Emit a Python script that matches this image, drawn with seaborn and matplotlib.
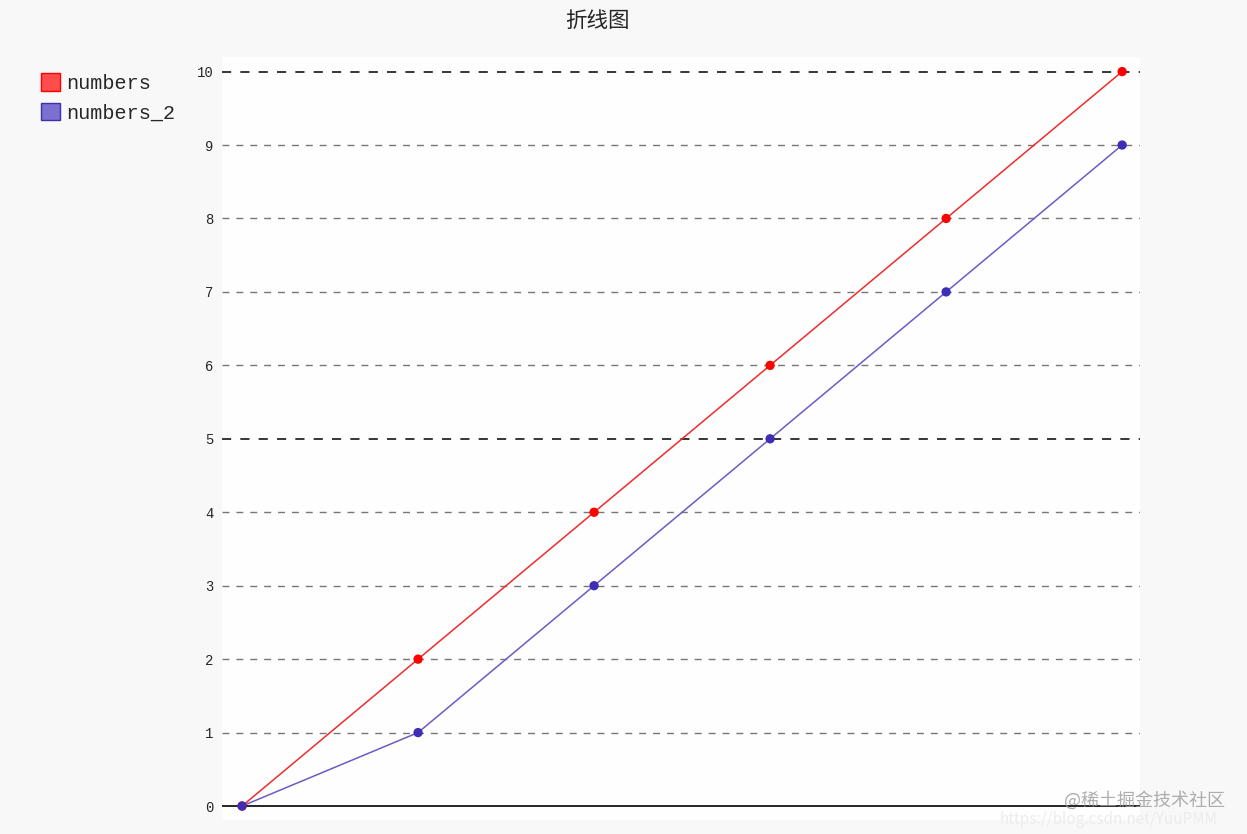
import numpy as np
import pandas as pd
import seaborn as sns
import matplotlib.pyplot as plt
from matplotlib.patches import Patch

# chart data
x_index = [0, 1, 2, 3, 4, 5]
numbers = [0, 2, 4, 6, 8, 10]
numbers_2 = [0, 1, 3, 5, 7, 9]
series_names = ["numbers", "numbers_2"]
y_ticks = list(range(0, 11))

df = pd.DataFrame({
    "x": x_index * 2,
    "value": numbers + numbers_2,
    "series": [series_names[0]] * len(numbers) + [series_names[1]] * len(numbers_2),
})

sns.set_theme(style="white")
plt.rcParams["font.family"] = ["Noto Sans CJK SC", "DejaVu Sans"]

line_colors = {"numbers": "#f02b2b", "numbers_2": "#6a5cc4"}
dot_colors = {"numbers": "#ff0000", "numbers_2": "#3f2db4"}
legend_colors = {"numbers": "#ff4c4c", "numbers_2": "#7c70d0"}

fig = plt.figure(figsize=(12.47, 8.34), dpi=100, facecolor="#f8f8f8")
ax = fig.add_axes([0.178, 0.0168, 0.736, 0.915])
ax.set_facecolor("#fefefe")

# grid lines
for v in y_ticks:
    if v == 0:
        ax.axhline(v, color="black", lw=1.2, zorder=1)
    elif v % 5 == 0:
        ax.axhline(v, color="black", lw=1.1, ls=(0, (6, 6)), zorder=1)
    else:
        ax.axhline(v, color="#777777", lw=1.0, ls=(0, (5, 5)), zorder=1)

sns.lineplot(data=df, x="x", y="value", hue="series", palette=line_colors,
             lw=1.1, legend=False, ax=ax, zorder=2)
for name in series_names:
    sub = df[df["series"] == name]
    sns.scatterplot(data=sub, x="x", y="value", color=dot_colors[name], s=45,
                    edgecolor="none", legend=False, ax=ax, zorder=3)

ax.set_xlim(-0.114, 5.10)
ax.set_ylim(-0.19, 10.2)
ax.set_xticks([])
ax.set_yticks(y_ticks)
ax.set_yticklabels([str(v) for v in y_ticks], family="Liberation Mono", fontsize=10)
ax.tick_params(axis="y", length=0, pad=6)
ax.set_xlabel("")
ax.set_ylabel("")
for s in ax.spines.values():
    s.set_visible(False)

fig.suptitle("折线图", x=0.479, y=0.988, fontsize=15.5)

handles = [Patch(facecolor=legend_colors[n], edgecolor=dot_colors[n], lw=1.0, label=n)
           for n in series_names]
fig.legend(handles=handles, loc="upper left", bbox_to_anchor=(0.018, 0.934),
           frameon=False, prop={"family": "Liberation Mono", "size": 14.5},
           handlelength=0.95, handleheight=0.95, handletextpad=0.3, labelspacing=0.5)

# watermark
fig.text(0.982, 0.040, "@稀土掘金技术社区", ha="right", va="center",
         fontsize=13, color="#9a9a9a", alpha=0.8)
fig.text(0.976, 0.017, "https://blog.csdn.net/YuuPMM", ha="right", va="center",
         fontsize=11, color="#ececec")

fig.savefig("out.png", dpi=100, facecolor=fig.get_facecolor())
